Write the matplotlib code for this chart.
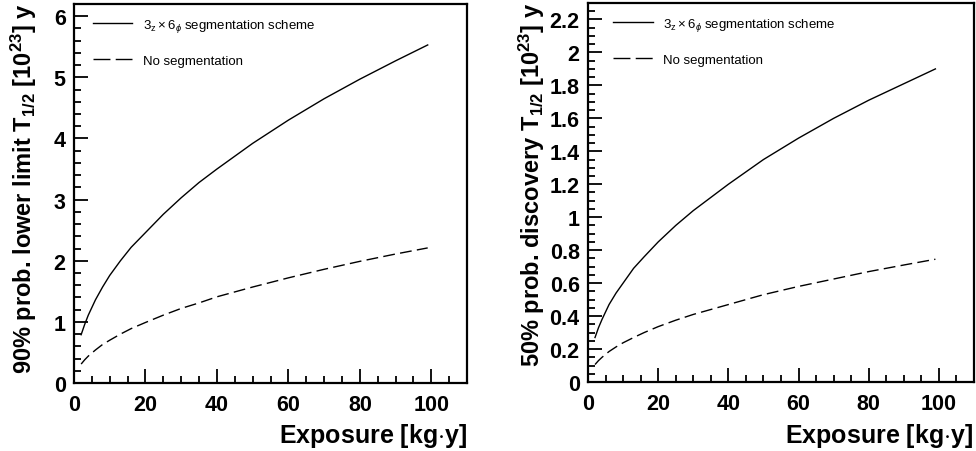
import numpy as np
import matplotlib
matplotlib.use('Agg')
import matplotlib.pyplot as plt
from matplotlib.ticker import MultipleLocator, FormatStrFormatter

plt.rcParams['font.family'] = ['Liberation Sans', 'DejaVu Sans']
plt.rcParams['mathtext.fontset'] = 'custom'
plt.rcParams['mathtext.rm'] = 'Liberation Sans'
plt.rcParams['mathtext.it'] = 'Liberation Sans:italic'
plt.rcParams['mathtext.bf'] = 'Liberation Sans:bold'

# exposure [kg y]
exposure = [2, 3, 4, 6, 8, 10, 13, 16, 20, 25, 30, 35, 40, 50, 60, 70, 80, 90, 99]

# 90% lower limit, 10^23 y
limit_seg   = [0.79, 0.96, 1.11, 1.36, 1.57, 1.76, 2.00, 2.22, 2.46, 2.76, 3.03,
               3.28, 3.50, 3.92, 4.30, 4.65, 4.97, 5.27, 5.53]
limit_noseg = [0.31, 0.38, 0.44, 0.54, 0.63, 0.70, 0.80, 0.89, 0.99, 1.11, 1.22,
               1.31, 1.41, 1.57, 1.72, 1.86, 1.99, 2.11, 2.21]

# 50% discovery, 10^23 y
disc_seg    = [0.27, 0.33, 0.38, 0.47, 0.54, 0.60, 0.69, 0.76, 0.85, 0.95, 1.04,
               1.12, 1.20, 1.35, 1.48, 1.60, 1.71, 1.81, 1.90]
disc_noseg  = [0.106, 0.13, 0.15, 0.185, 0.213, 0.238, 0.27, 0.30, 0.336, 0.375, 0.41,
               0.44, 0.47, 0.53, 0.58, 0.625, 0.67, 0.71, 0.745]

lab_seg = r'$3_{\mathrm{z}}\times 6_{\phi}$ segmentation scheme'
lab_noseg = 'No segmentation'

fig = plt.figure(figsize=(9.76, 4.52), dpi=100)

def panel(rect, yseg, ynoseg, ymax, ymaj, ymin, fmt, leg_x):
    ax = fig.add_axes(rect)
    ax.plot(exposure, yseg, color='k', lw=1.0, label=lab_seg)
    ax.plot(exposure, ynoseg, color='k', lw=1.0, dashes=(8.5, 3.8), label=lab_noseg)
    ax.set_xlim(0, 110)
    ax.set_ylim(0, ymax)
    ax.xaxis.set_major_locator(MultipleLocator(20))
    ax.xaxis.set_minor_locator(MultipleLocator(5))
    ax.yaxis.set_major_locator(MultipleLocator(ymaj))
    ax.yaxis.set_minor_locator(MultipleLocator(ymin))
    ax.yaxis.set_major_formatter(FormatStrFormatter(fmt))
    ax.tick_params(which='both', direction='in', top=False, right=False, width=1.3)
    ax.tick_params(which='major', length=10, labelsize=15.5)
    ax.tick_params(which='minor', length=5)
    ax.tick_params(axis='x', pad=8)
    ax.tick_params(axis='y', pad=6)
    for t in ax.get_xticklabels() + ax.get_yticklabels():
        t.set_fontweight('bold')
    for s in ax.spines.values():
        s.set_linewidth(1.6)
    leg = ax.legend(loc='upper left', bbox_to_anchor=(leg_x, 0.966), frameon=False,
                    borderaxespad=0, borderpad=0, handlelength=3.0, handletextpad=0.8,
                    labelspacing=1.55, prop={'size': 9.5, 'weight': 'normal'})
    leg.get_lines()[1].set_dashes((12.2, 3.8))
    return ax

ax1 = panel([74/976, 1-384/452, 393/976, 379/452], limit_seg, limit_noseg,
            6.2, 1, 0.2, '%g', 0.048)
ax2 = panel([588/976, 1-383/452, 386/976, 379/452], disc_seg, disc_noseg,
            2.3, 0.2, 0.05, '%g', 0.065)

fig.text(467/976, 1-443/452, r'Exposure [kg$\cdot$y]', ha='right', va='baseline',
         fontsize=18, fontweight='bold')
fig.text(973/976, 1-443/452, r'Exposure [kg$\cdot$y]', ha='right', va='baseline',
         fontsize=18, fontweight='bold')

fig.text(32/976, 1-3/452,
         r'90% prob. lower limit $\mathbf{T}_{\mathbf{1/2}}$ [$\mathbf{10}^{\mathbf{23}}$] y',
         rotation=90, rotation_mode='anchor', ha='right', va='baseline',
         fontsize=17, fontweight='bold')
fig.text(540/976, 1-3/452,
         r'50% prob. discovery $\mathbf{T}_{\mathbf{1/2}}$ [$\mathbf{10}^{\mathbf{23}}$] y',
         rotation=90, rotation_mode='anchor', ha='right', va='baseline',
         fontsize=17, fontweight='bold')

fig.savefig('out.png', dpi=100)
